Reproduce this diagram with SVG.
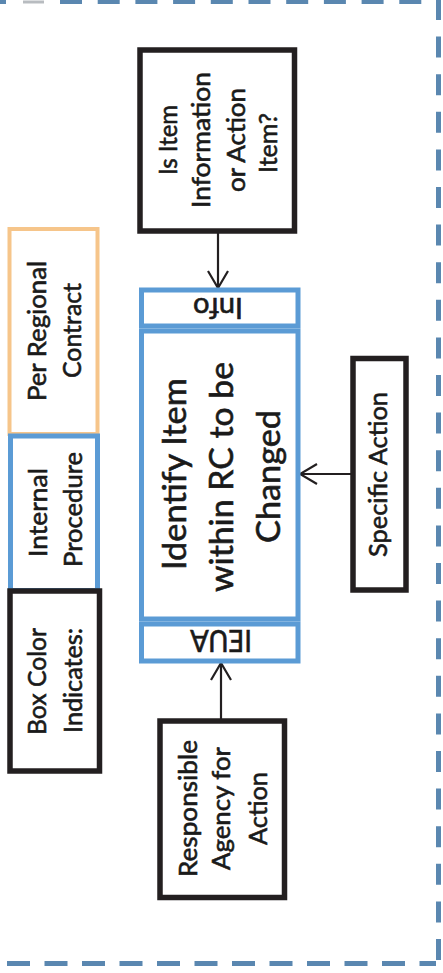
<svg xmlns="http://www.w3.org/2000/svg" width="443" height="973" viewBox="0 0 443 973">
  <defs>
    <style>
      .blk { fill: #ffffff; stroke: #231f20; stroke-width: 5.5; }
      .blu { fill: #ffffff; stroke: #5b9bd5; stroke-width: 5; }
      .org { fill: #ffffff; stroke: #f6c58a; stroke-width: 4; }
      text { font-family: Lato, "Open Sans", "Liberation Sans", sans-serif; fill: #1a1a1a; stroke: #1a1a1a; stroke-width: 0.6; text-anchor: middle; }
      .s { font-size: 25px; }
      .m { font-size: 32px; }
      .conn { stroke: #231f20; stroke-width: 2.2; fill: none; }
      .bd { stroke: #5a87b0; fill: none; }
    </style>
    <marker id="arr" markerUnits="userSpaceOnUse" viewBox="-20 -12 22 24" markerWidth="22" markerHeight="24" refX="0" refY="0" orient="auto">
      <path d="M -17 -10 L 0 0 L -17 10" fill="none" stroke="#231f20" stroke-width="2.2"/>
    </marker>
  </defs>
  <rect width="443" height="973" fill="#ffffff"/>

  <g id="border">
    <line class="bd" x1="0" y1="2" x2="6" y2="2" stroke-width="4"/>
    <line x1="23" y1="2" x2="44" y2="2" stroke="#b8bcc0" stroke-width="3"/>
    <line class="bd" x1="60" y1="2" x2="436" y2="2" stroke-width="4" stroke-dasharray="22 15.7"/>
    <line class="bd" x1="438.5" y1="-1" x2="438.5" y2="973" stroke-width="5" stroke-dasharray="21 16.6"/>
    <line class="bd" x1="7" y1="963.5" x2="436" y2="963.5" stroke-width="5" stroke-dasharray="23 14.5"/>
  </g>

  <g id="legend-regional">
    <rect class="org" x="9.5" y="229" width="88" height="205"/>
    <text class="s" transform="translate(46,331) rotate(-90)" textLength="140" lengthAdjust="spacingAndGlyphs">Per Regional</text>
    <text class="s" transform="translate(81,330.5) rotate(-90)" textLength="95" lengthAdjust="spacingAndGlyphs">Contract</text>
  </g>

  <g id="legend-internal">
    <rect class="blu" x="10.5" y="436" width="87" height="154.5"/>
    <text class="s" transform="translate(47,512.5) rotate(-90)" textLength="89" lengthAdjust="spacingAndGlyphs">Internal</text>
    <text class="s" transform="translate(81.5,509.5) rotate(-90)" textLength="115" lengthAdjust="spacingAndGlyphs">Procedure</text>
  </g>

  <g id="legend-box-color">
    <rect class="blk" x="10" y="591" width="89.5" height="180"/>
    <text class="s" transform="translate(46,681.5) rotate(-90)" textLength="107" lengthAdjust="spacingAndGlyphs">Box Color</text>
    <text class="s" transform="translate(82,680.5) rotate(-90)" textLength="105" lengthAdjust="spacingAndGlyphs">Indicates:</text>
  </g>

  <g id="connectors">
    <line class="conn" x1="218" y1="233" x2="218" y2="288" marker-end="url(#arr)"/>
    <line class="conn" x1="221" y1="719" x2="221" y2="663" marker-end="url(#arr)"/>
    <line class="conn" x1="351" y1="474" x2="300" y2="474" marker-end="url(#arr)"/>
  </g>

  <g id="node-is-item">
    <rect class="blk" x="140" y="50" width="154.5" height="181"/>
    <text class="s" transform="translate(177,140) rotate(-90)" textLength="70" lengthAdjust="spacingAndGlyphs">Is Item</text>
    <text class="s" transform="translate(210,140) rotate(-90)" textLength="136" lengthAdjust="spacingAndGlyphs">Information</text>
    <text class="s" transform="translate(245,140) rotate(-90)" textLength="104" lengthAdjust="spacingAndGlyphs">or Action</text>
    <text class="s" transform="translate(277,143) rotate(-90)" textLength="60" lengthAdjust="spacingAndGlyphs">Item?</text>
  </g>

  <g id="node-info">
    <rect class="blu" x="141.5" y="290" width="156.5" height="36"/>
    <text transform="translate(218,298) rotate(180)" font-size="28" textLength="50" lengthAdjust="spacingAndGlyphs">Info</text>
  </g>

  <g id="node-identify">
    <rect class="blu" x="141.5" y="331" width="156.5" height="288"/>
    <text class="m" transform="translate(186,474) rotate(-90)" textLength="192" lengthAdjust="spacingAndGlyphs">Identify Item</text>
    <text class="m" transform="translate(233,477) rotate(-90)" textLength="230" lengthAdjust="spacingAndGlyphs">within RC to be</text>
    <text class="m" transform="translate(280,476.5) rotate(-90)" textLength="133" lengthAdjust="spacingAndGlyphs">Changed</text>
  </g>

  <g id="node-ieua">
    <rect class="blu" x="141.5" y="624" width="156.5" height="37"/>
    <text transform="translate(221,630) rotate(180)" font-size="30" textLength="62" lengthAdjust="spacingAndGlyphs">IEUA</text>
  </g>

  <g id="node-specific">
    <rect class="blk" x="353" y="358.5" width="53" height="231.5"/>
    <text class="s" transform="translate(387,474.5) rotate(-90)" textLength="165" lengthAdjust="spacingAndGlyphs">Specific Action</text>
  </g>

  <g id="node-responsible">
    <rect class="blk" x="160" y="721" width="124.5" height="176.5"/>
    <text class="s" transform="translate(197,808.5) rotate(-90)" textLength="137" lengthAdjust="spacingAndGlyphs">Responsible</text>
    <text class="s" transform="translate(230,808.5) rotate(-90)" textLength="123" lengthAdjust="spacingAndGlyphs">Agency for</text>
    <text class="s" transform="translate(266.5,808.5) rotate(-90)" textLength="73" lengthAdjust="spacingAndGlyphs">Action</text>
  </g>
</svg>
